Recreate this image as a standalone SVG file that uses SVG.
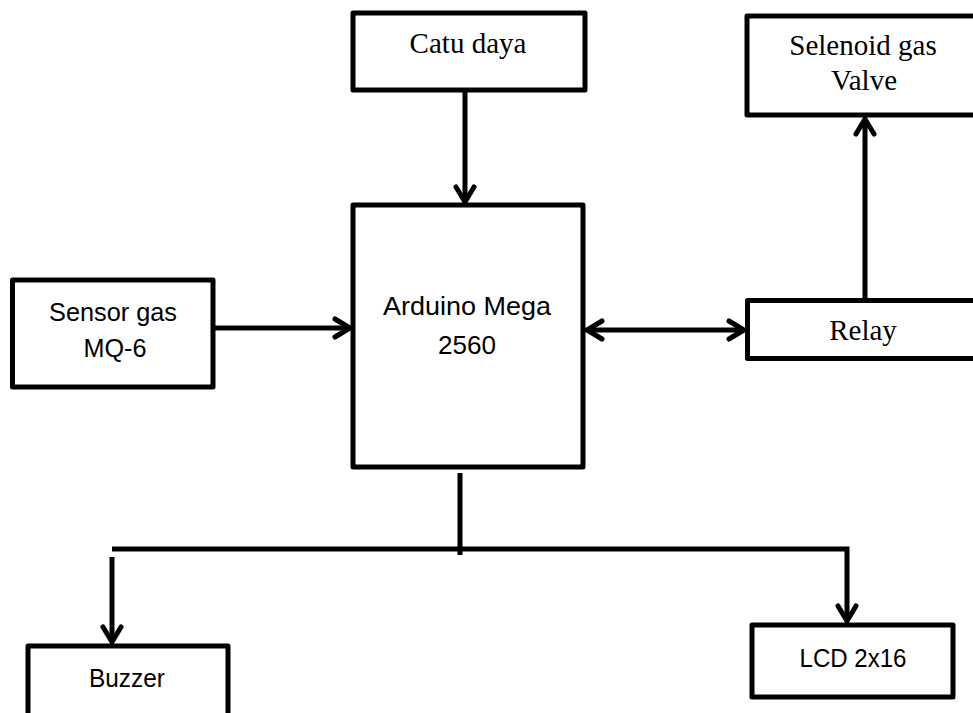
<svg xmlns="http://www.w3.org/2000/svg" width="973" height="713" viewBox="0 0 973 713">
<style>
.box{fill:#fff;stroke:#000;stroke-width:5;stroke-linejoin:round}
.ln{fill:none;stroke:#000;stroke-width:5}
.serif{font-family:"Liberation Serif","Times New Roman",serif;font-size:29px;fill:#000;text-anchor:middle}
.sans{font-family:"Liberation Sans",Arial,sans-serif;font-size:25px;fill:#000;text-anchor:middle}
</style>
<defs>
<marker id="ah" markerUnits="userSpaceOnUse" markerWidth="30" markerHeight="30" viewBox="-20 -15 25 30" refX="0" refY="0" orient="auto-start-reverse">
<path d="M -15,-9 L 0,0 L -15,9" fill="none" stroke="#000" stroke-width="5" stroke-linecap="round" stroke-linejoin="miter"/>
</marker>
</defs>
<rect width="973" height="713" fill="#fff"/>
<g id="connectors">
<line class="ln" x1="465" y1="90" x2="465" y2="202" marker-end="url(#ah)"/>
<line class="ln" x1="213" y1="328" x2="350" y2="328" marker-end="url(#ah)"/>
<line class="ln" x1="587" y1="330" x2="744" y2="330" marker-start="url(#ah)" marker-end="url(#ah)"/>
<line class="ln" x1="865" y1="300" x2="865" y2="119" marker-end="url(#ah)"/>
<line class="ln" x1="460" y1="473" x2="460" y2="555"/>
<polyline class="ln" points="112,549 847,549 847,621" marker-end="url(#ah)"/>
<line class="ln" x1="112" y1="557" x2="112" y2="642" marker-end="url(#ah)"/>
</g>
<g id="catu">
<rect class="box" x="353" y="13" width="232" height="77"/>
<text class="serif" x="468" y="53">Catu daya</text>
</g>
<g id="selenoid">
<rect class="box" x="747" y="16" width="240" height="99"/>
<text class="serif" x="863" y="55">Selenoid gas</text>
<text class="serif" x="864" y="90">Valve</text>
</g>
<g id="arduino">
<rect class="box" x="353" y="205" width="230" height="262"/>
<text class="sans" x="467" y="315" textLength="168" lengthAdjust="spacingAndGlyphs">Arduino Mega</text>
<text class="sans" x="467" y="354" textLength="58" lengthAdjust="spacingAndGlyphs">2560</text>
</g>
<g id="sensor">
<rect class="box" x="12.5" y="280" width="200.5" height="107"/>
<text class="sans" x="113" y="321" textLength="128" lengthAdjust="spacingAndGlyphs">Sensor gas</text>
<text class="sans" x="115" y="357" textLength="63" lengthAdjust="spacingAndGlyphs">MQ-6</text>
</g>
<g id="relay">
<rect class="box" x="747.5" y="300.5" width="240" height="58"/>
<text class="serif" x="863" y="340">Relay</text>
</g>
<g id="buzzer">
<rect class="box" x="28" y="646" width="200" height="100"/>
<text class="sans" x="127" y="687" textLength="76" lengthAdjust="spacingAndGlyphs">Buzzer</text>
</g>
<g id="lcd">
<rect class="box" x="752" y="625" width="201" height="72"/>
<text class="sans" x="853" y="667" textLength="107" lengthAdjust="spacingAndGlyphs">LCD 2x16</text>
</g>
</svg>
